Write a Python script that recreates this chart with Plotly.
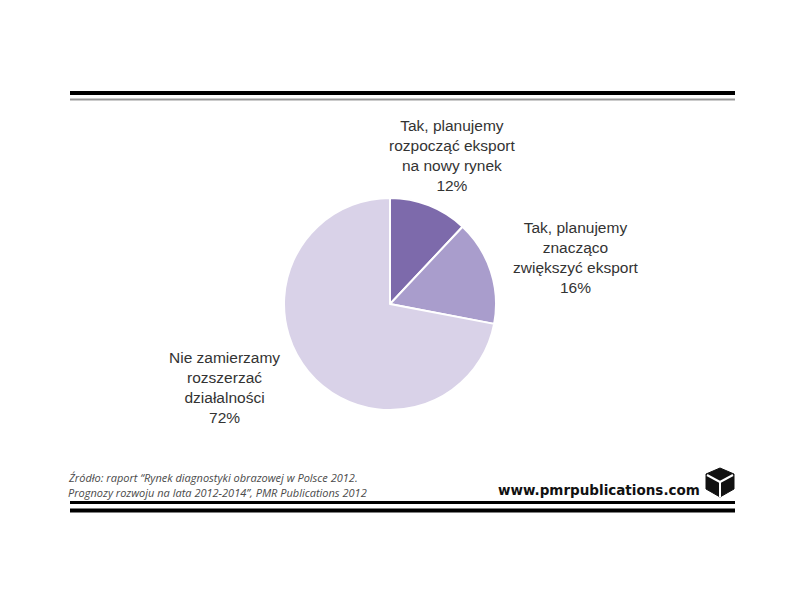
import plotly.graph_objects as go

# Data
labels = [
    "Tak, planujemy<br>rozpocząć eksport<br>na nowy rynek",
    "Tak, planujemy<br>znacząco<br>zwiększyć eksport",
    "Nie zamierzamy<br>rozszerzać<br>działalności",
]
values = [12, 16, 72]
colors = ["#7d6aab", "#a99dcc", "#d9d2e8"]
source_lines = ["Źródło: raport \u201cRynek diagnostyki obrazowej w Polsce 2012.",
                "Prognozy rozwoju na lata 2012-2014\u201d, PMR Publications 2012"]
website = "www.pmrpublications.com"

W, H = 800, 600
OFF = 8  # page body margin


def px(x):
    return (x - OFF) / W


def py(y):
    return 1 - (y - OFF) / H


cx, cy, r = 390, 304, 106

fig = go.Figure()
fig.add_trace(go.Pie(
    labels=labels,
    values=values,
    sort=False,
    direction="clockwise",
    rotation=0,
    textinfo="none",
    hoverinfo="label+percent",
    marker=dict(colors=colors, line=dict(color="white", width=2)),
    domain=dict(x=[px(cx - r), px(cx + r)], y=[py(cy + r), py(cy - r)]),
    showlegend=False,
))

# label positions (pixel centers)
label_pos = [(452, 155), (576, 257), (224, 387)]
annotations = []
for lab, val, (lx, ly) in zip(labels, values, label_pos):
    annotations.append(dict(
        x=px(lx), y=py(ly), xref="paper", yref="paper",
        text=f"{lab}<br>{val}%", showarrow=False,
        font=dict(family="Liberation Sans, Arial", size=15.5, color="#333333"),
        align="center", xanchor="center", yanchor="middle",
    ))

for line, ly in zip(source_lines, [477.5, 492]):
    annotations.append(dict(
        x=px(66), y=py(ly), xref="paper", yref="paper",
        text=f"<i>{line}</i>", showarrow=False, align="left",
        xanchor="left", yanchor="middle",
        font=dict(family="Open Sans", size=11, color="#4a4a4a"),
    ))
annotations.append(dict(
    x=px(702), y=py(490), xref="paper", yref="paper",
    text=f"<b>{website}</b>", showarrow=False,
    xanchor="right", yanchor="middle",
    font=dict(family="DejaVu Sans", size=13.5, color="#111111"),
))

shapes = []


def hline(y, width, color):
    shapes.append(dict(type="line", xref="paper", yref="paper",
                       x0=px(70), x1=px(735), y0=py(y), y1=py(y),
                       line=dict(color=color, width=width)))


hline(93, 4, "#000000")
hline(99.5, 2, "#999999")
hline(502.5, 3, "#000000")
hline(510.5, 4, "#000000")

# logo cube
pts = [(720, 468), (734, 474), (734, 489), (720, 497), (706, 489), (706, 474)]
path = "M " + " L ".join(f"{px(x)},{py(y)}" for x, y in pts) + " Z"
shapes.append(dict(type="path", xref="paper", yref="paper", path=path,
                   fillcolor="#111111", line=dict(color="#111111", width=1)))
c = (720, 482)
for ex, ey in [(707, 475), (733, 475), (720, 497)]:
    shapes.append(dict(type="line", xref="paper", yref="paper",
                       x0=px(c[0]), y0=py(c[1]), x1=px(ex), y1=py(ey),
                       line=dict(color="white", width=2)))

fig.update_layout(
    width=W, height=H,
    margin=dict(l=0, r=0, t=0, b=0),
    paper_bgcolor="white", plot_bgcolor="white",
    annotations=annotations, shapes=shapes,
)

fig.write_html("out.html")
